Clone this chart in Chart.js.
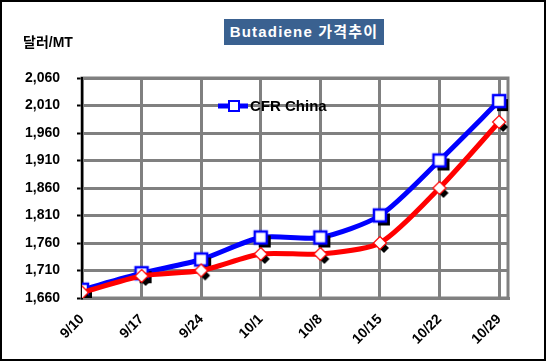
<!DOCTYPE html>
<html>
<head>
<meta charset="utf-8">
<script src="https://cdn.jsdelivr.net/npm/chart.js@4/dist/chart.umd.min.js"></script>
<style>
  html, body { margin: 0; padding: 0; background: #fff; }
  #wrap { position: relative; width: 546px; height: 364px; font-family: "Liberation Sans", Arial, "Noto Sans CJK KR", sans-serif; }
  #title {
    position: absolute; left: 224px; top: 19px; width: 160px; height: 26px;
    background: #3a6190; color: #fff; font-weight: bold; font-size: 15px;
    letter-spacing: 1.2px; text-align: center; line-height: 26px;
  }
  #unit { position: absolute; left: 23px; top: 31px; font-weight: bold; font-size: 14px; color: #000; }
</style>
</head>
<body>
<div id="wrap">
  <canvas id="chart" width="546" height="364"></canvas>
  <div id="title">Butadiene 가격추이</div>
  <div id="unit">달러/MT</div>
</div>
<script>
const weeks = ["9/10", "9/17", "9/24", "10/1", "10/8", "10/15", "10/22", "10/29"];
const cfrChina = [1675, 1705, 1730, 1770, 1770, 1810, 1910, 2018];
const other = [1670, 1700, 1710, 1740, 1740, 1760, 1860, 1980];
const yTicks = [1660, 1710, 1760, 1810, 1860, 1910, 1960, 2010, 2060];

const FONT = '"Liberation Sans", Arial, "Noto Sans CJK KR", sans-serif';

// marker images with a black drop shadow, like the excel chart
function squareMarker() {
  const c = document.createElement('canvas');
  c.width = 28; c.height = 28;
  const g = c.getContext('2d');
  g.fillStyle = '#000';
  g.fillRect(14 - 6 + 4, 14 - 6 + 4, 12, 12);
  g.fillStyle = '#fff';
  g.fillRect(8, 8, 12, 12);
  g.strokeStyle = '#0000ff';
  g.lineWidth = 2.5;
  g.strokeRect(8, 8, 12, 12);
  return c;
}
function diamondMarker() {
  const c = document.createElement('canvas');
  c.width = 28; c.height = 28;
  const g = c.getContext('2d');
  const dia = (cx, cy, r) => {
    g.beginPath();
    g.moveTo(cx, cy - r); g.lineTo(cx + r, cy); g.lineTo(cx, cy + r); g.lineTo(cx - r, cy);
    g.closePath();
  };
  g.fillStyle = '#000';
  dia(18, 19, 5); g.fill();
  g.fillStyle = '#fff';
  dia(14, 14, 6.5); g.fill();
  g.strokeStyle = '#ff0000';
  g.lineWidth = 1.2;
  g.stroke();
  return c;
}

const blueMark = squareMarker();
const redMark = diamondMarker();

const frame = {
  id: 'frame',
  beforeDatasetsDraw(chart) {
    const a = chart.chartArea, ctx = chart.ctx;
    ctx.save();
    ctx.strokeStyle = '#808080';
    ctx.lineWidth = 3;
    ctx.strokeRect(a.left, a.top, a.right - a.left, a.bottom - a.top);
    ctx.strokeStyle = '#000';
    ctx.lineWidth = 2;
    ctx.beginPath();
    ctx.moveTo(a.left, a.top - 1); ctx.lineTo(a.left, a.bottom + 1);
    ctx.stroke();
    ctx.restore();
  },
  afterDraw(chart) {
    const ctx = chart.ctx;
    ctx.save();
    // legend inside plot
    const ly = 106;
    ctx.strokeStyle = '#0000ff';
    ctx.lineWidth = 5;
    ctx.beginPath(); ctx.moveTo(218, ly); ctx.lineTo(248, ly); ctx.stroke();
    ctx.fillStyle = '#fff';
    ctx.fillRect(229, ly - 5, 10, 10);
    ctx.strokeStyle = '#0000ff';
    ctx.lineWidth = 2;
    ctx.strokeRect(229, ly - 5, 10, 10);
    ctx.fillStyle = '#000';
    ctx.font = 'bold 15px ' + FONT;
    ctx.textBaseline = 'middle';
    ctx.fillText('CFR China', 250, ly + 1);
    // outer border
    ctx.strokeStyle = '#000';
    ctx.lineWidth = 2;
    ctx.strokeRect(1, 1, 544, 359);
    ctx.restore();
  }
};

new Chart('chart', {
  type: 'line',
  data: {
    datasets: [{
      label: 'CFR China',
      data: cfrChina.map((v, i) => ({ x: i, y: v })),
      borderColor: '#0000ff',
      borderWidth: 5,
      pointStyle: blueMark,
      tension: 0.25,
      order: 1
    }, {
      label: 'other',
      data: other.map((v, i) => ({ x: i, y: v })),
      borderColor: '#ff0000',
      borderWidth: 5,
      pointStyle: redMark,
      tension: 0.25,
      order: 0
    }]
  },
  options: {
    responsive: false,
    animation: false,
    layout: { padding: { top: 78, right: 38, left: 0, bottom: 0 } },
    plugins: {
      legend: { display: false },
      tooltip: { enabled: false }
    },
    scales: {
      x: {
        type: 'linear',
        min: 0,
        max: 7.15,
        afterBuildTicks(scale) { scale.ticks = weeks.map((w, i) => ({ value: i })); },
        afterFit(scale) { scale.height = 66; },
        grid: { color: '#808080', lineWidth: 3, drawTicks: false },
        border: { color: '#808080', width: 3 },
        ticks: {
          callback: (v) => weeks[v],
          minRotation: 45,
          maxRotation: 45,
          padding: 13,
          color: '#000',
          font: { family: FONT, size: 14, weight: 'bold' }
        }
      },
      y: {
        min: 1660,
        max: 2060,
        afterBuildTicks(scale) { scale.ticks = yTicks.map(v => ({ value: v })); },
        afterFit(scale) { scale.width = 82; },
        grid: { color: '#808080', lineWidth: 3, tickColor: '#000', tickWidth: 2, tickLength: 5 },
        border: { color: '#000', width: 2 },
        ticks: {
          callback: (v) => v.toLocaleString('en-US'),
          padding: 17,
          color: '#000',
          font: { family: FONT, size: 14, weight: 'bold' }
        }
      }
    }
  },
  plugins: [frame]
});
</script>
</body>
</html>
